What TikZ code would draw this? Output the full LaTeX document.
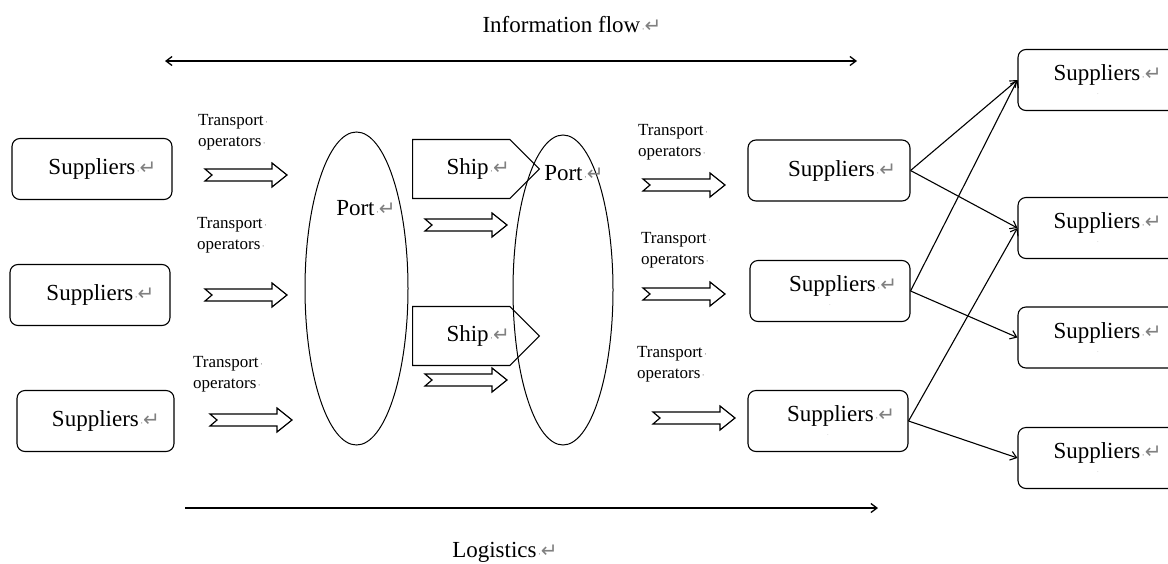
\documentclass[tikz,border=0pt]{standalone}
\usepackage{fontspec}
\setmainfont{Liberation Serif}
\newfontfamily\symfont{DejaVu Sans}
\usetikzlibrary{arrows.meta,shapes.geometric,shapes.symbols}

% gray paragraph and space marks
\newcommand{\spc}{{\color{gray}\symfont\fontsize{9}{9}\selectfont\,·}}
\newcommand{\ret}{{\color{gray}\symfont\fontsize{9}{9}\selectfont\,·\fontsize{20}{20}\selectfont↵}}

\tikzset{
    supbox/.style={draw, line width=1.1pt, rounded corners=8pt, inner sep=0pt,
        minimum width=160pt, minimum height=61pt, font=\fontsize{23}{26}\selectfont},
    portell/.style={draw, ellipse, line width=1pt, inner sep=0pt},
    shipbox/.style={draw, signal, signal to=east, signal pointer angle=90, line width=1.1pt, anchor=west,
        inner sep=0pt, minimum width=113pt, minimum height=59pt, font=\fontsize{23}{26}\selectfont},
    oplabel/.style={anchor=north west, inner sep=0pt, align=left, font=\fontsize{17}{21}\selectfont},
    biglabel/.style={inner sep=0pt, font=\fontsize{23}{26}\selectfont},
    fatarrow/.pic={
        \draw[line width=1.2pt] (0,-6) -- (67,-6) -- (67,-12) -- (82,0) -- (67,12) -- (67,6) -- (0,6) -- (7,0) -- cycle;
    }
}

\begin{document}
\begin{tikzpicture}[x=1pt, y=-1pt, >={Straight Barb[length=6pt,width=9pt]}]
    \useasboundingbox (0,0) rectangle (1168,563);
    % Information flow and logistics.
        \node[biglabel] (info) at (572,25) {Information flow\ret};
        \coordinate (infoL) at (165,61);
        \coordinate (infoR) at (857,61);
        \draw[line width=1.3pt, <->] (infoL) -- (infoR);
        \node[biglabel] (logi) at (505,552) {Logistics\ret};
        \coordinate (logiL) at (185,508);
        \coordinate (logiR) at (878,508);
        \draw[line width=1.3pt, ->] (logiL) -- (logiR);
    % Suppliers on the left.
        \node[supbox] (l1) at (92,169) {\hspace*{21pt}Suppliers\ret};
        \node[supbox] (l2) at (90,295) {\hspace*{21pt}Suppliers\ret};
        \node[supbox, minimum width=157pt] (l3) at (95.5,421) {\hspace*{21pt}Suppliers\ret};
    % Transport operators into the first port.
        \node[oplabel] (t1) at (198,114) {Transport\spc\\operators\spc};
        \node[oplabel] (t2) at (197,217) {Transport\spc\\operators\spc};
        \node[oplabel] (t3) at (193,356) {Transport\spc\\operators\spc};
        \pic at (205,175) {fatarrow};
        \pic at (205,295) {fatarrow};
        \pic at (210,420) {fatarrow};
    % The two ports.
        \node[portell, minimum width=103pt, minimum height=313pt] (port1) at (356.5,288.5) {};
        \node[biglabel] (p1lab) at (366,208) {Port\ret};
        \node[portell, minimum width=100pt, minimum height=310pt] (port2) at (563,290) {};
        \node[biglabel] (p2lab) at (574,173) {Port\ret};
    % Ships between the ports.
        \node[shipbox] (ship1) at (412,169) {\hspace*{34pt}Ship\ret};
        \node[shipbox] (ship2) at (412,336) {\hspace*{34pt}Ship\ret};
        \pic at (425,225) {fatarrow};
        \pic at (425,380) {fatarrow};
    % Transport operators out of the second port.
        \node[oplabel] (t4) at (638,124) {Transport\spc\\operators\spc};
        \node[oplabel] (t5) at (641,232) {Transport\spc\\operators\spc};
        \node[oplabel] (t6) at (637,346) {Transport\spc\\operators\spc};
        \pic at (643,185) {fatarrow};
        \pic at (643,294) {fatarrow};
        \pic at (653,418) {fatarrow};
    % Suppliers in the middle.
        \node[supbox, minimum width=162pt] (m1) at (829,170.5) {\hspace*{26pt}Suppliers\ret};
        \node[supbox, align=center] (m2) at (830,291) {\hspace*{26pt}Suppliers\ret\\[-12pt]{\color{gray}\tiny .}};
        \node[supbox, align=center] (m3) at (828,421) {\hspace*{26pt}Suppliers\ret\\[-12pt]{\color{gray}\tiny .}};
    % Suppliers on the right.
        \node[supbox, align=center] (r1) at (1098,80) {\hspace*{19pt}Suppliers\ret\\[-12pt]{\color{gray}\tiny .}};
        \node[supbox, align=center] (r2) at (1098,228) {\hspace*{19pt}Suppliers\ret\\[-12pt]{\color{gray}\tiny .}};
        \node[supbox, align=center] (r3) at (1098,337.5) {\hspace*{19pt}Suppliers\ret\\[-12pt]{\color{gray}\tiny .}};
        \node[supbox, align=center] (r4) at (1098,458) {\hspace*{19pt}Suppliers\ret\\[-12pt]{\color{gray}\tiny .}};
    % Links to the right column.
        \draw[line width=1.1pt, ->] (m1.east) -- (r1.west);
        \draw[line width=1.1pt, ->] (m1.east) -- (r2.west);
        \draw[line width=1.1pt, ->] (m2.east) -- (r1.west);
        \draw[line width=1.1pt, ->] (m2.east) -- (r3.west);
        \draw[line width=1.1pt, ->] (m3.east) -- (r2.west);
        \draw[line width=1.1pt, ->] (m3.east) -- (r4.west);
\end{tikzpicture}
\end{document}
